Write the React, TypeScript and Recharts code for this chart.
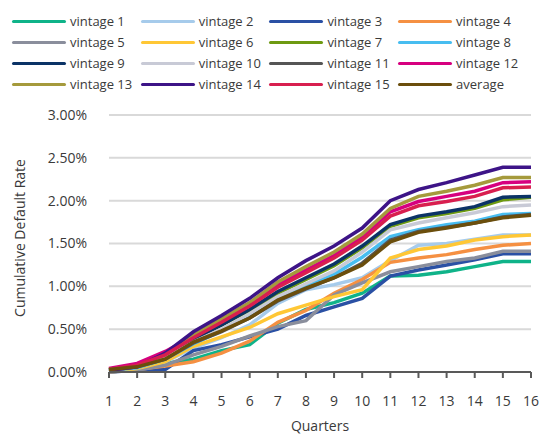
import { LineChart, Line, XAxis, YAxis, CartesianGrid } from 'recharts'

const quarters = [1, 2, 3, 4, 5, 6, 7, 8, 9, 10, 11, 12, 13, 14, 15, 16]

const vintage1 = [0.0, 0.03, 0.1, 0.15, 0.25, 0.32, 0.57, 0.73, 0.81, 0.92, 1.12, 1.13, 1.17, 1.23, 1.29, 1.29]
const vintage2 = [0.01, 0.04, 0.12, 0.28, 0.4, 0.55, 0.8, 0.96, 1.02, 1.1, 1.3, 1.48, 1.5, 1.55, 1.6, 1.6]
const vintage3 = [0.0, 0.02, 0.03, 0.25, 0.32, 0.41, 0.5, 0.66, 0.76, 0.86, 1.12, 1.19, 1.25, 1.31, 1.38, 1.38]
const vintage4 = [0.0, 0.03, 0.07, 0.12, 0.22, 0.36, 0.58, 0.72, 0.92, 1.08, 1.28, 1.33, 1.37, 1.43, 1.48, 1.5]
const vintage5 = [0.0, 0.02, 0.08, 0.2, 0.3, 0.42, 0.53, 0.6, 0.9, 1.04, 1.17, 1.23, 1.29, 1.33, 1.41, 1.41]
const vintage6 = [0.01, 0.04, 0.12, 0.3, 0.41, 0.52, 0.68, 0.78, 0.88, 0.96, 1.33, 1.43, 1.47, 1.54, 1.58, 1.6]
const vintage7 = [0.03, 0.07, 0.19, 0.39, 0.55, 0.72, 0.92, 1.08, 1.24, 1.45, 1.7, 1.8, 1.85, 1.91, 2.01, 2.04]
const vintage8 = [0.02, 0.05, 0.15, 0.33, 0.48, 0.65, 0.85, 1.0, 1.14, 1.34, 1.58, 1.66, 1.72, 1.76, 1.84, 1.85]
const vintage9 = [0.02, 0.06, 0.18, 0.38, 0.55, 0.73, 0.94, 1.1, 1.26, 1.47, 1.72, 1.82, 1.87, 1.93, 2.04, 2.05]
const vintage10 = [0.02, 0.06, 0.17, 0.35, 0.5, 0.68, 0.88, 1.03, 1.18, 1.4, 1.66, 1.74, 1.8, 1.86, 1.93, 1.95]
const vintage11 = [0.02, 0.06, 0.15, 0.34, 0.47, 0.63, 0.83, 0.97, 1.1, 1.27, 1.54, 1.64, 1.69, 1.74, 1.81, 1.84]
const vintage12 = [0.04, 0.1, 0.24, 0.42, 0.6, 0.79, 1.02, 1.19, 1.36, 1.58, 1.87, 1.99, 2.05, 2.11, 2.21, 2.22]
const vintage13 = [0.03, 0.07, 0.2, 0.43, 0.62, 0.81, 1.05, 1.23, 1.4, 1.61, 1.91, 2.05, 2.11, 2.18, 2.27, 2.27]
const vintage14 = [0.02, 0.06, 0.22, 0.47, 0.66, 0.86, 1.1, 1.3, 1.47, 1.68, 2.0, 2.13, 2.21, 2.3, 2.39, 2.39]
const vintage15 = [0.03, 0.08, 0.2, 0.4, 0.58, 0.77, 0.99, 1.16, 1.33, 1.54, 1.82, 1.94, 1.99, 2.05, 2.15, 2.16]
const average = [0.03, 0.06, 0.15, 0.35, 0.48, 0.63, 0.84, 0.98, 1.1, 1.25, 1.52, 1.63, 1.68, 1.74, 1.8, 1.83]

const seriesNames = [
  'vintage 1', 'vintage 2', 'vintage 3', 'vintage 4',
  'vintage 5', 'vintage 6', 'vintage 7', 'vintage 8',
  'vintage 9', 'vintage 10', 'vintage 11', 'vintage 12',
  'vintage 13', 'vintage 14', 'vintage 15', 'average',
]
const seriesValues = [
  vintage1, vintage2, vintage3, vintage4,
  vintage5, vintage6, vintage7, vintage8,
  vintage9, vintage10, vintage11, vintage12,
  vintage13, vintage14, vintage15, average,
]
const seriesColors = [
  '#0fb389', '#a6cbeb', '#2a50a4', '#f59042',
  '#8a8e9c', '#ffc735', '#6e9a12', '#47bdf0',
  '#0b3366', '#c8cad6', '#555555', '#d6007f',
  '#a59a3c', '#3d1487', '#d81f4f', '#6b4e0c',
]

const yTicks = [0, 0.5, 1, 1.5, 2, 2.5, 3]

const rows = quarters.map((q, i) => {
  const row: Record<string, number> = { q }
  seriesNames.forEach((name, s) => {
    row[name] = seriesValues[s][i]
  })
  return row
})

const TEXT = '#3a3a3a'

function ChartLegend() {
  return (
    <div
      style={{
        position: 'absolute',
        left: 12,
        top: 11,
        display: 'grid',
        gridTemplateColumns: 'repeat(4, 128.7px)',
        rowGap: 1,
        fontSize: 13,
        color: TEXT,
        lineHeight: '20px',
      }}
    >
      {seriesNames.map((name, i) => (
        <div key={name} style={{ display: 'flex', alignItems: 'center', whiteSpace: 'nowrap' }}>
          <span
            style={{
              display: 'inline-block',
              width: 54,
              height: 3,
              borderRadius: 2,
              background: seriesColors[i],
              marginRight: 4,
            }}
          />
          {name}
        </div>
      ))}
    </div>
  )
}

// rotated axis title, a bit above the plot's middle as in the source
function YTitle() {
  return (
    <text
      x={19}
      y={238}
      transform="rotate(-90 19 238)"
      textAnchor="middle"
      dominantBaseline="central"
      fill={TEXT}
      fontSize={14}
    >
      Cumulative Default Rate
    </text>
  )
}

export default function App() {
  return (
    <div
      style={{
        position: 'absolute',
        left: 0,
        top: 0,
        width: 548,
        height: 436,
        background: '#fff',
        fontFamily: '"Open Sans", sans-serif',
      }}
    >
      <ChartLegend />
      <LineChart
        width={548}
        height={436}
        data={rows}
        margin={{ top: 115, right: 17, bottom: 0, left: 0 }}
      >
        <CartesianGrid vertical={false} stroke="#d9d9d9" strokeWidth={2} />
        <XAxis
          dataKey="q"
          height={64}
          axisLine={{ stroke: '#595959', strokeWidth: 2 }}
          tickLine={{ stroke: '#595959', strokeWidth: 2 }}
          tickSize={6}
          tickMargin={18}
          tick={{ fill: TEXT, fontSize: 14 }}
          interval={0}
          label={{ value: 'Quarters', position: 'insideBottom', offset: 5, fill: TEXT, fontSize: 14 }}
        />
        <YAxis
          width={109}
          domain={[0, 3]}
          ticks={yTicks}
          axisLine={false}
          tickLine={false}
          tickMargin={16}
          tick={{ fill: TEXT, fontSize: 14 }}
          tickFormatter={(v: number) => `${v.toFixed(2)}%`}
          label={{ content: () => <YTitle /> }}
        />
        {seriesNames.map((name, i) => (
          <Line
            key={name}
            type="linear"
            dataKey={name}
            stroke={seriesColors[i]}
            strokeWidth={3.5}
            dot={false}
            isAnimationActive={false}
          />
        ))}
      </LineChart>
    </div>
  )
}
